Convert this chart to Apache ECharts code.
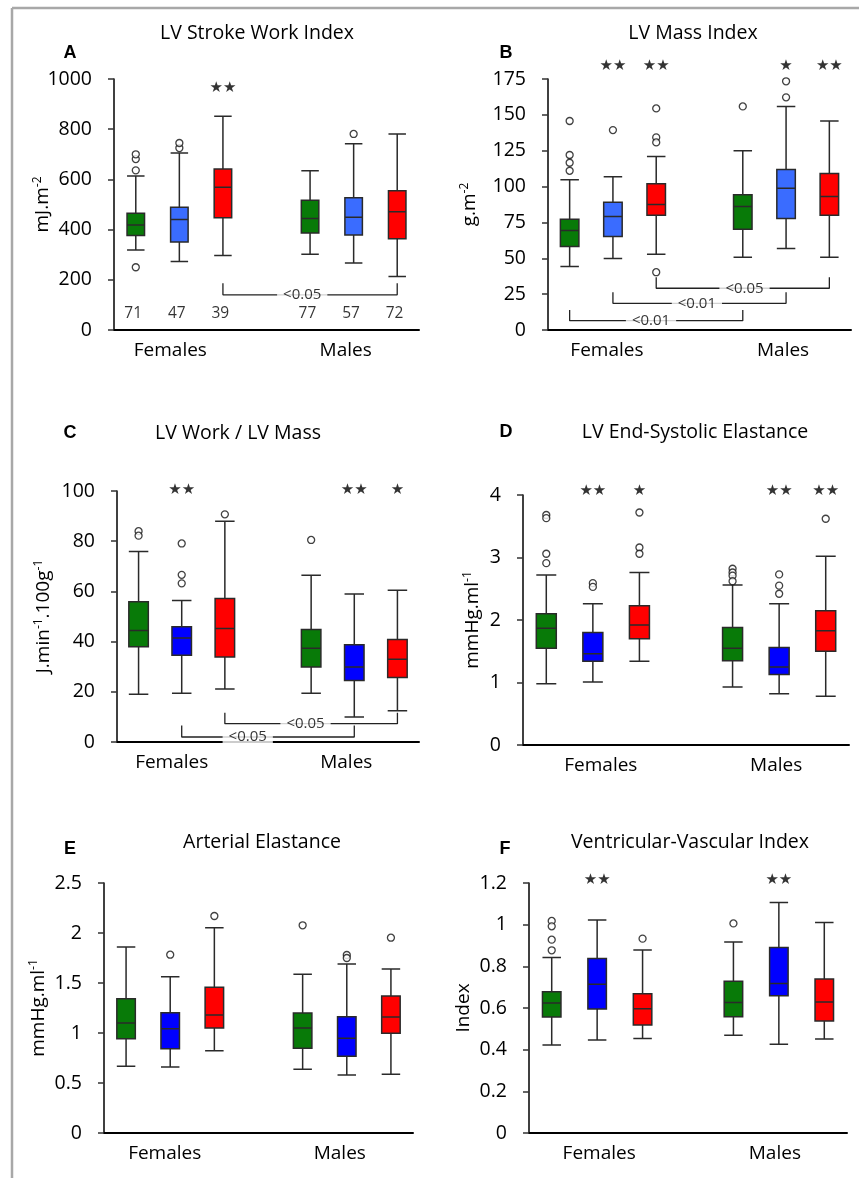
<!DOCTYPE html>
<html>
<head>
<meta charset="utf-8">
<script src="https://cdn.jsdelivr.net/npm/echarts@6/dist/echarts.min.js"></script>
<style>html,body{margin:0;padding:0;background:#fff}#c{width:859px;height:1178px}</style>
</head>
<body>
<div id="c"></div>
<script>
// ---------- DATA ----------
// category slots: 3 female boxes, a gap, 3 male boxes
const categories = ['F-green', 'F-blue', 'F-red', 'gap', 'M-green', 'M-blue', 'M-red'];
const groupLabels = { 'F-blue': 'Females', 'M-blue': 'Males' };
const boxSlots = [0, 1, 2, 4, 5, 6];

// box stats: [min, Q1, median, Q3, max]; order F-green, F-blue, F-red, M-green, M-blue, M-red
const boxA = [[319,376,418,465,614],[273,351,440,489,705],[297,447,569,641,852],[302,386,444,517,634],[267,378,449,527,742],[213,364,471,555,781]];
const outA = [[250,636,681,700],[725,745],[],[],[781],[]];
const starA = ['', '', '★★', '', '', ''];
const countA = ['71','47','39','77','57','72'];
// brackets: [fromBox, toBox, endValue, barValue, label, labelSlot]
const bracketA = [[2, 5, 186, 140, '<0.05', 3.82]];

const boxB = [[44.2,58.2,69.3,77.3,104.7],[49.8,65.2,79.1,89.1,106.8],[52.8,80,87.5,101.9,121],[50.7,70.3,86.1,94.3,125],[56.8,77.7,98.9,111.9,155.9],[50.7,80,93.1,109.1,145.7]];
const outB = [[145.7,122,116.6,111],[139.4],[154.5,134.3,130.8,40.3],[155.9],[173.4,162.2],[]];
const starB = ['', '★★', '★★', '', '★', '★★'];
const bracketB = [[2, 5, 36.8, 29.1, '<0.05', 4.04],[1, 4, 26.3, 18.6, '<0.01', 2.94],[0, 3, 14, 6.5, '<0.01', 1.88]];

const boxC = [[19,37.9,44.4,55.9,75.9],[19.4,34.6,41.4,45.9,56.4],[21.1,33.9,45.2,57.2,87.9],[19.4,29.9,37.4,44.8,66.4],[10,24.5,29.9,38.7,59],[12.5,25.7,33,40.8,60.5]];
const outC = [[84,82.2],[79.1,66.6,63.2],[90.7],[80.5],[],[]];
const starC = ['', '★★', '', '', '★★', '★'];
const bracketC = [[2, 5, 11.7, 7.3, '<0.05', 3.87],[1, 4, 6.6, 2, '<0.05', 2.53]];

const boxD = [[0.98,1.55,1.87,2.10,2.72],[1.01,1.34,1.46,1.80,2.26],[1.34,1.70,1.92,2.23,2.76],[0.93,1.35,1.55,1.88,2.56],[0.82,1.13,1.25,1.56,2.26],[0.78,1.50,1.83,2.15,3.02]];
const outD = [[3.68,3.63,3.06,2.91],[2.59,2.53],[3.72,3.16,3.06],[2.82,2.76,2.71,2.62],[2.73,2.55,2.42],[3.62]];
const starD = ['', '★★', '★', '', '★★', '★★'];

const boxE = [[0.667,0.943,1.10,1.343,1.86],[0.66,0.843,1.043,1.203,1.563],[0.823,1.05,1.18,1.457,2.053],[0.637,0.847,1.05,1.2,1.587],[0.58,0.767,0.947,1.163,1.69],[0.587,0.997,1.16,1.37,1.64]];
const outE = [[],[1.783],[2.17],[2.077],[1.78,1.75],[1.953]];

const boxF = [[0.422,0.557,0.624,0.678,0.843],[0.446,0.595,0.714,0.838,1.022],[0.454,0.518,0.597,0.669,0.878],[0.469,0.558,0.627,0.728,0.917],[0.426,0.659,0.718,0.89,1.107],[0.451,0.538,0.629,0.739,1.011]];
const outF = [[1.018,0.992,0.928,0.877],[],[0.933],[1.006],[],[]];
const starF = ['', '★★', '', '', '★★', ''];

// ---------- LAYOUT / STYLE ----------
const FONT = '"Open Sans", sans-serif';
const GREEN = '#087a08', RED = '#ff0000';

const panels = [
  { letter:'A', title:'LV Stroke Work Index', titlePos:[257,33], letterPos:[70,53],
    grid:{left:114, top:79, width:305, height:251}, yMax:1000, yInt:200,
    yName:'{t|mJ.m}{s|-2}', nameGap:60, blue:'#3a6cff', boxW:17.5,
    box:boxA, out:outA, stars:starA, starY:964, counts:countA, countY:66, brackets:bracketA, shift:[-9,-8] },
  { letter:'B', title:'LV Mass Index', titlePos:[693,33], letterPos:[506,53],
    grid:{left:548, top:79, width:303, height:251}, yMax:175, yInt:25,
    yName:'{t|g.m}{s|-2}', nameGap:67, blue:'#3a6cff', boxW:18.5,
    box:boxB, out:outB, stars:starB, starY:183.8, brackets:bracketB, shift:[-6,-3] },
  { letter:'C', title:'LV Work / LV Mass', titlePos:[238,433], letterPos:[70,433],
    grid:{left:117, top:491, width:302, height:251}, yMax:100, yInt:20,
    yName:'{t|J.min}{s|-1}{t|.100g}{s|-1}', nameGap:62, blue:'#0000ff', boxW:19.5,
    box:boxC, out:outC, stars:starC, starY:100.4, brackets:bracketC, shift:[-10,-8] },
  { letter:'D', title:'LV End-Systolic Elastance', titlePos:[695,432], letterPos:[506,432],
    grid:{left:523, top:495, width:326, height:250}, yMax:4, yInt:1,
    yName:'{t|mmHg.ml}{s|-1}', nameGap:39, blue:'#0000ff', boxW:20,
    box:boxD, out:outD, stars:starD, starY:4.07, brackets:[], shift:[8,-3] },
  { letter:'E', title:'Arterial Elastance', titlePos:[262,842], letterPos:[70,849],
    grid:{left:104, top:883, width:309, height:250}, yMax:2.5, yInt:0.5,
    yName:'{t|mmHg.ml}{s|-1}', nameGap:54, blue:'#0000ff', boxW:18.5,
    box:boxE, out:outE, stars:null, brackets:[], shift:[-5.5,-7] },
  { letter:'F', title:'Ventricular-Vascular Index', titlePos:[690,842], letterPos:[505,849],
    grid:{left:529, top:883, width:318, height:250}, yMax:1.2, yInt:0.2,
    yName:'{t|Index}', nameGap:54, blue:'#0000ff', boxW:18.5,
    box:boxF, out:outF, stars:starF, starY:1.2125, brackets:[], shift:[2,-4] }
];

const transparent = 'rgba(0,0,0,0)';
const option = {
  animation: false,
  backgroundColor: '#ffffff',
  textStyle: { fontFamily: FONT },
  grid: [], xAxis: [], yAxis: [], series: [],
  graphic: [
    { type:'line', shape:{x1:12, y1:8, x2:859, y2:8}, style:{stroke:'#a8a8a8', lineWidth:2.5} },
    { type:'line', shape:{x1:12, y1:8, x2:12, y2:1178}, style:{stroke:'#a8a8a8', lineWidth:2.5} }
  ]
};

function labelItem(cat, shift) {
  const s = cat === 'F-blue' ? shift[0] : cat === 'M-blue' ? shift[1] : 0;
  return { value: cat, textStyle: { padding: [0, Math.max(0, -2 * s), 0, Math.max(0, 2 * s)] } };
}

panels.forEach((P, k) => {
  const colors = [GREEN, P.blue, RED];
  option.grid.push(Object.assign({}, P.grid));
  option.xAxis.push({
    type:'category', gridIndex:k, boundaryGap:true,
    data: categories.map(c => labelItem(c, P.shift)),
    axisLine:{ onZero:false, lineStyle:{ color:'#000', width:2 } },
    axisTick:{ show:false },
    axisLabel:{ interval:0, fontSize:19, color:'#000', margin:11, fontFamily:FONT,
      formatter: v => groupLabels[v] || '' },
    splitLine:{ show:false }
  });
  option.xAxis.push({ type:'value', gridIndex:k, min:-0.5, max:6.5, show:false,
    axisLine:{ show:false, onZero:false } });
  option.yAxis.push({
    type:'value', gridIndex:k, min:0, max:P.yMax, interval:P.yInt,
    axisLine:{ show:true, onZero:false, lineStyle:{ color:'#000', width:1.5 } },
    axisTick:{ show:true, length:6, lineStyle:{ color:'#333', width:1.5 } },
    axisLabel:{ fontSize:19.5, color:'#000', margin:22, fontFamily:FONT, formatter: v => String(v) },
    splitLine:{ show:false },
    name:P.yName, nameLocation:'middle', nameGap:P.nameGap, nameRotate:90, nameMoveOverlap:false,
    nameTextStyle:{ color:'#000', fontFamily:FONT, fontSize:19,
      rich:{ t:{ fontSize:19, lineHeight:22, fontFamily:FONT, color:'#000' },
             s:{ fontSize:12, lineHeight:12, verticalAlign:'top', fontFamily:FONT, color:'#000' } } }
  });

  // boxes
  const boxData = categories.map((c, slot) => {
    const bi = boxSlots.indexOf(slot);
    if (bi < 0) return { value:[0,0,0,0,0], itemStyle:{ color:transparent, borderColor:transparent, borderWidth:0 } };
    return { value:P.box[bi].slice(), itemStyle:{ color:colors[bi % 3] } };
  });
  option.series.push({
    type:'boxplot', xAxisIndex:2*k, yAxisIndex:k, boxWidth:[P.boxW, P.boxW],
    itemStyle:{ borderColor:'#2a2a2a', borderWidth:1.5 },
    emphasis:{ disabled:true }, silent:true, data:boxData, z:2
  });

  // outliers
  const outData = [];
  P.out.forEach((arr, bi) => arr.forEach(v => outData.push([boxSlots[bi], v])));
  option.series.push({
    type:'scatter', xAxisIndex:2*k+1, yAxisIndex:k, symbol:'circle', symbolSize:7, clip:false,
    itemStyle:{ color:'#fff', borderColor:'#111', borderWidth:1.3 }, silent:true, data:outData, z:3
  });

  // brackets
  P.brackets.forEach(b => {
    const x1 = boxSlots[b[0]], x2 = boxSlots[b[1]];
    option.series.push({
      type:'line', xAxisIndex:2*k+1, yAxisIndex:k, symbol:'none', clip:false, silent:true,
      lineStyle:{ color:'#222', width:1.3 },
      data:[[x1, b[2]], [x1, b[3]], [x2, b[3]], [x2, b[2]]], z:3
    });
    option.series.push({
      type:'scatter', xAxisIndex:2*k+1, yAxisIndex:k, symbolSize:1, clip:false, silent:true,
      itemStyle:{ color:transparent },
      data:[{ value:[b[5], b[3]], name:b[4] }],
      label:{ show:true, position:'inside', formatter:'{b}', fontSize:15, color:'#000', fontFamily:FONT,
        backgroundColor:'#fff', padding:[0, 6] }, z:4
    });
  });

  // stars
  if (P.stars) {
    option.series.push({
      type:'scatter', xAxisIndex:2*k+1, yAxisIndex:k, symbolSize:1, clip:false, silent:true,
      itemStyle:{ color:transparent },
      data:P.stars.map((s, bi) => s ? { value:[boxSlots[bi], P.starY], name:s } : null).filter(Boolean),
      label:{ show:true, position:'inside', formatter:'{b}', fontSize:15, color:'#000', fontFamily:'"DejaVu Sans", sans-serif' }, z:4
    });
  }
  // n counts
  if (P.counts) {
    option.series.push({
      type:'scatter', xAxisIndex:2*k+1, yAxisIndex:k, symbolSize:1, clip:false, silent:true,
      itemStyle:{ color:transparent },
      data:P.counts.map((n, bi) => ({ value:[boxSlots[bi] - 0.06, P.countY], name:n })),
      label:{ show:true, position:'inside', formatter:'{b}', fontSize:15.5, color:'#000', fontFamily:FONT }, z:4
    });
  }

  // title & letter
  option.graphic.push({ type:'text', x:P.titlePos[0], y:P.titlePos[1],
    style:{ text:P.title, fontSize:19.5, fontFamily:FONT, fill:'#000',
      align:'center', verticalAlign:'middle', textAlign:'center', textVerticalAlign:'middle' } });
  option.graphic.push({ type:'text', x:P.letterPos[0], y:P.letterPos[1],
    style:{ text:P.letter, fontSize:18, fontWeight:'bold', fontFamily:'"Liberation Sans", Arial, sans-serif', fill:'#000',
      align:'center', verticalAlign:'middle', textAlign:'center', textVerticalAlign:'middle' } });
});

const chart = echarts.init(document.getElementById('c'), null, { renderer:'canvas' });
chart.setOption(option);
</script>
</body>
</html>
